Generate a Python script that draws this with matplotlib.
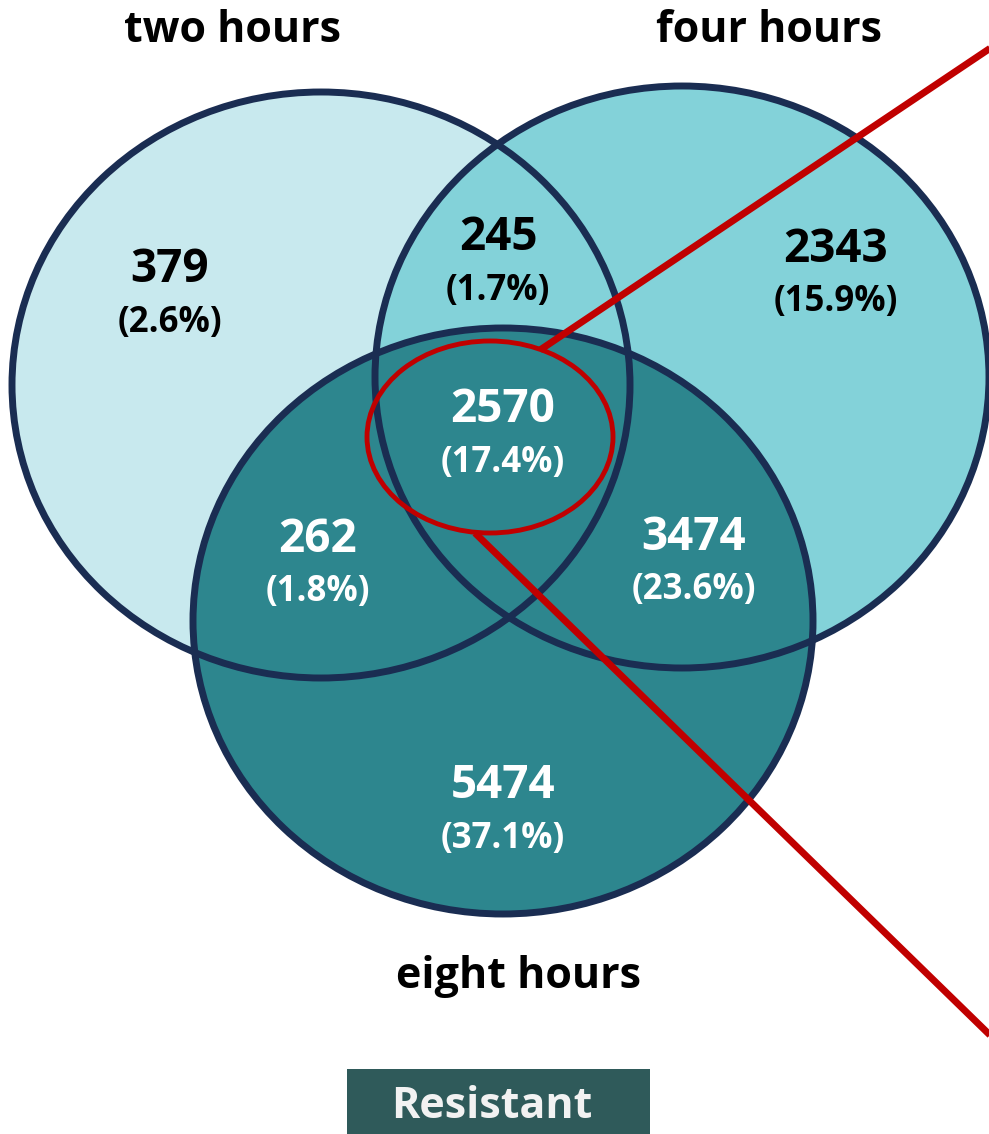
import matplotlib
matplotlib.use("Agg")
import matplotlib.pyplot as plt
from matplotlib.patches import Ellipse, Rectangle

plt.rcParams['font.family'] = ['Open Sans', 'DejaVu Sans']

# data
sets = ["two hours", "four hours", "eight hours"]
regions = ["2 only", "2&4", "4 only", "2&4&8", "2&8", "4&8", "8 only"]
counts = [379, 245, 2343, 2570, 262, 3474, 5474]
total = sum(counts)
pcts = [100.0 * c / total for c in counts]

# layout (pixel coords, y down)
W, H = 989, 1134
circ_xy = [(321, 385), (682, 377), (503, 621)]
circ_r = [(309, 293), (307, 291), (310, 293)]
circ_fill = ["#C8E9EE", "#83D2D9", "#2D868E"]
edge = "#1A2D52"
title_xy = [(232, 30), (769, 30), (519, 976)]
label_xy = [(170, 270), (498, 238), (836, 249), (503, 410), (318, 539), (694, 537), (503, 786)]
label_col = ["black", "black", "black", "white", "white", "white", "white"]
red = "#C00000"

fig = plt.figure(figsize=(W / 100, H / 100), dpi=100)
ax = fig.add_axes([0, 0, 1, 1])
ax.set_xlim(0, W)
ax.set_ylim(H, 0)
ax.axis("off")

for (x, y), (rx, ry), c in zip(circ_xy, circ_r, circ_fill):
    ax.add_patch(Ellipse((x, y), 2 * rx, 2 * ry, facecolor=c, edgecolor="none", zorder=1))
for (x, y), (rx, ry) in zip(circ_xy, circ_r):
    ax.add_patch(Ellipse((x, y), 2 * rx, 2 * ry, facecolor="none", edgecolor=edge, lw=5, zorder=2))

# red highlight
ax.add_patch(Ellipse((490, 437), 246, 192, facecolor="none", edgecolor=red, lw=3.5, zorder=3))
ax.plot([540, 995], [350, 45], color=red, lw=5, solid_capstyle="butt", zorder=3)
ax.plot([475, 995], [533, 1040], color=red, lw=5, solid_capstyle="butt", zorder=3)

for (x, y), c, p, col in zip(label_xy, counts, pcts, label_col):
    ax.text(x, y, str(c), ha="center", va="center", fontsize=33, fontweight="bold", color=col, zorder=4)
    ax.text(x, y + 53, "(%.1f%%)" % p, ha="center", va="center", fontsize=25, fontweight="bold", color=col, zorder=4)

for (x, y), s in zip(title_xy, sets):
    ax.text(x, y, s, ha="center", va="center", fontsize=31, fontweight="bold", color="black", zorder=4)

ax.add_patch(Rectangle((347, 1069), 303, 70, facecolor="#2F5A5A", edgecolor="none", zorder=4))
ax.text(492, 1106, "Resistant", ha="center", va="center", fontsize=31, fontweight="bold", color="#F2F2F2", zorder=5)

fig.savefig("out.png", dpi=100)
